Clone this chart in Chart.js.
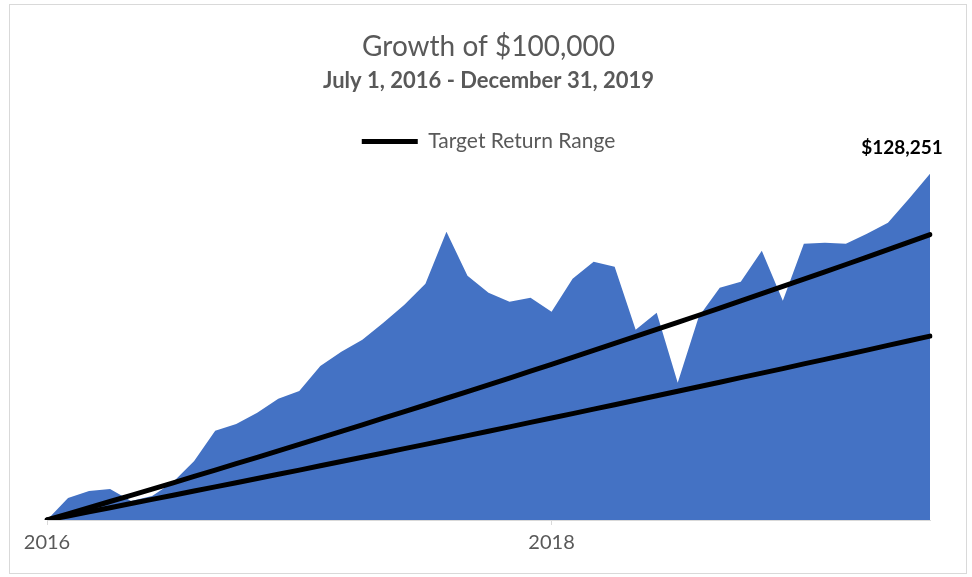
<!DOCTYPE html>
<html>
<head>
<meta charset="utf-8">
<script src="https://cdn.jsdelivr.net/npm/chart.js@4.4.1/dist/chart.umd.min.js"></script>
<style>
  html, body { margin: 0; padding: 0; background: #fff; }
  #wrap { position: relative; width: 972px; height: 577px; }
  #frame { position: absolute; left: 9px; top: 4px; width: 958px; height: 570px; border: 1px solid #d9d9d9; box-sizing: border-box; pointer-events: none; }
</style>
</head>
<body>
<div id="wrap">
  <canvas id="growth"></canvas>
  <div id="frame"></div>
</div>
<script>
// month ends, Jun 2016 .. Dec 2019
const months = [
  'Jun 2016', 'Jul 2016', 'Aug 2016', 'Sep 2016', 'Oct 2016', 'Nov 2016', 'Dec 2016',
  'Jan 2017', 'Feb 2017', 'Mar 2017', 'Apr 2017', 'May 2017', 'Jun 2017', 'Jul 2017', 'Aug 2017', 'Sep 2017', 'Oct 2017', 'Nov 2017', 'Dec 2017',
  'Jan 2018', 'Feb 2018', 'Mar 2018', 'Apr 2018', 'May 2018', 'Jun 2018', 'Jul 2018', 'Aug 2018', 'Sep 2018', 'Oct 2018', 'Nov 2018', 'Dec 2018',
  'Jan 2019', 'Feb 2019', 'Mar 2019', 'Apr 2019', 'May 2019', 'Jun 2019', 'Jul 2019', 'Aug 2019', 'Sep 2019', 'Oct 2019', 'Nov 2019', 'Dec 2019'
];
const xTickIndex = [0, 24];
const xTickText = ['2016', '2018'];

const portfolio = [
  100000, 101800, 102370, 102530, 101550, 101960, 103100,
  104820, 107270, 107840, 108740, 109880, 110530, 112570, 113720, 114700, 116090, 117550, 119270,
  123520, 119920, 118530, 117800, 118130, 116980, 119680, 121070, 120660, 115510, 116900, 111190,
  116580, 118940, 119430, 121960, 117880, 122540, 122620, 122540, 123350, 124250, 126210, 128251
];
const targetHigh = [
  100000, 100500, 101000, 101510, 102010, 102520, 103030,
  103550, 104070, 104590, 105110, 105630, 106160, 106690, 107220, 107760, 108300, 108840, 109380,
  109930, 110480, 111030, 111580, 112140, 112700, 113260, 113830, 114400, 114970, 115540, 116120,
  116700, 117280, 117870, 118460, 119050, 119640, 120240, 120840, 121440, 122050, 122660, 123280
];
const targetLow = [
  100000, 100330, 100670, 101000, 101340, 101680, 102020,
  102360, 102700, 103040, 103380, 103730, 104070, 104420, 104770, 105120, 105470, 105820, 106170,
  106530, 106880, 107240, 107600, 107960, 108320, 108680, 109040, 109400, 109770, 110130, 110500,
  110870, 111240, 111610, 111980, 112350, 112730, 113100, 113480, 113860, 114240, 114620, 115000
];

const GREY = '#595959';
const FONT = 'Lato, "Open Sans", sans-serif';

// end value label over the last point of the area
const endLabel = {
  id: 'endLabel',
  afterDatasetsDraw(chart) {
    const meta = chart.getDatasetMeta(2);
    const pt = meta.data[meta.data.length - 1];
    const v = portfolio[portfolio.length - 1];
    const ctx = chart.ctx;
    ctx.save();
    ctx.font = 'bold 19px ' + FONT;
    ctx.fillStyle = '#000';
    ctx.textAlign = 'center';
    ctx.textBaseline = 'middle';
    ctx.fillText('$' + v.toLocaleString('en-US'), pt.x - 28, pt.y - 26);
    ctx.restore();
  }
};

new Chart(document.getElementById('growth').getContext('2d'), {
  type: 'line',
  data: {
    labels: months,
    datasets: [
      {
        label: 'Target Return Range',
        data: targetHigh,
        borderColor: '#000',
        backgroundColor: '#000',
        borderWidth: 5,
        borderCapStyle: 'round',
        pointRadius: 0,
        fill: false
      },
      {
        label: 'Target Low',
        data: targetLow,
        borderColor: '#000',
        backgroundColor: '#000',
        borderWidth: 5,
        borderCapStyle: 'round',
        pointRadius: 0,
        fill: false
      },
      {
        label: 'Portfolio',
        data: portfolio,
        borderWidth: 0,
        borderColor: '#4472C4',
        backgroundColor: '#4472C4',
        pointRadius: 0,
        fill: 'start'
      }
    ]
  },
  options: {
    responsive: true,
    maintainAspectRatio: false,
    animation: false,
    layout: { padding: { left: 47, right: 42, top: 30, bottom: 16 } },
    plugins: {
      title: {
        display: true,
        text: 'Growth of $100,000',
        color: GREY,
        font: { family: FONT, size: 28, weight: 'normal' },
        padding: { top: 0, bottom: 4 }
      },
      subtitle: {
        display: true,
        text: 'July 1, 2016 - December 31, 2019',
        color: GREY,
        font: { family: FONT, size: 22, weight: 'bold' },
        padding: { top: 0, bottom: 37 }
      },
      legend: {
        position: 'top',
        labels: {
          color: GREY,
          font: { family: FONT, size: 21 },
          usePointStyle: true,
          pointStyle: 'line',
          pointStyleWidth: 56,
          boxHeight: 6,
          padding: 0,
          filter: item => item.datasetIndex === 0
        }
      },
      tooltip: { enabled: false }
    },
    scales: {
      x: {
        offset: false,
        border: { color: '#d9d9d9', width: 1 },
        grid: {
          drawOnChartArea: false,
          drawTicks: true,
          tickLength: 5,
          color: ctx => xTickIndex.includes(ctx.index) ? '#d9d9d9' : 'rgba(0,0,0,0)'
        },
        ticks: {
          autoSkip: false,
          maxRotation: 0,
          color: GREY,
          font: { family: FONT, size: 20 },
          padding: 6,
          callback: (v, i) => {
            const k = xTickIndex.indexOf(i);
            return k >= 0 ? xTickText[k] : '';
          }
        }
      },
      y: {
        display: false,
        min: 100000,
        max: 129200
      }
    }
  },
  plugins: [endLabel]
});
</script>
</body>
</html>
